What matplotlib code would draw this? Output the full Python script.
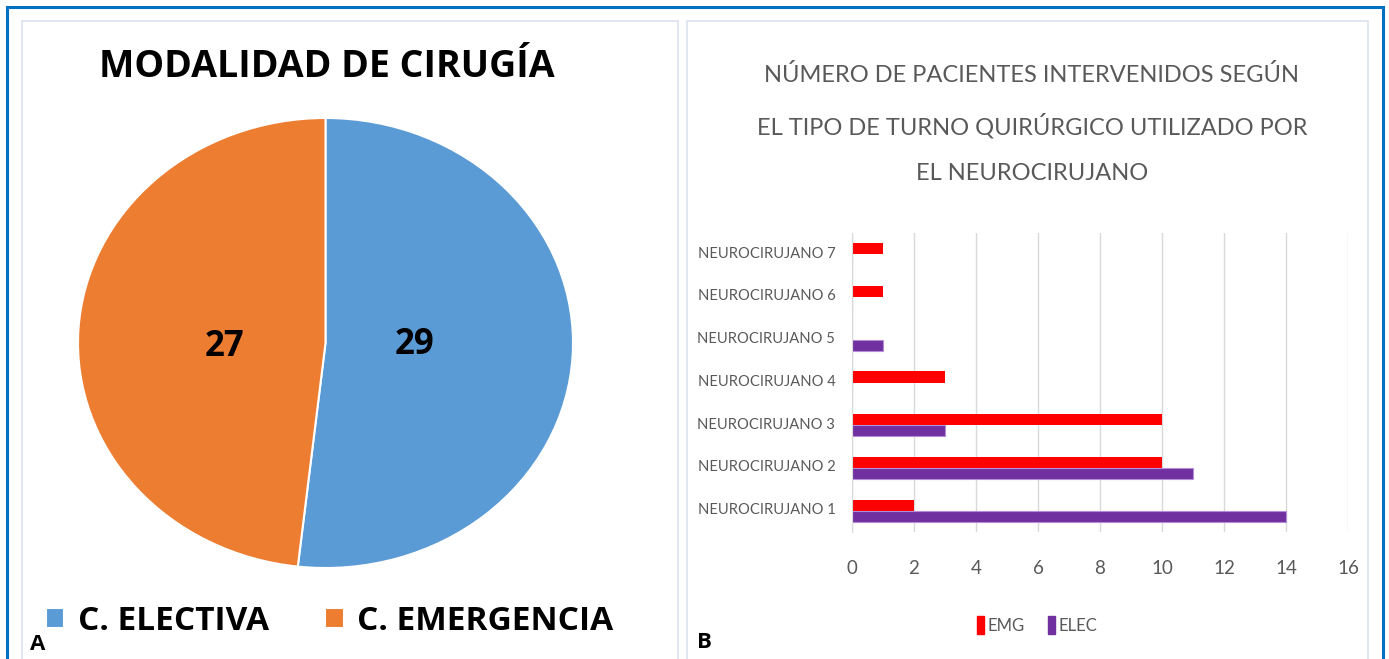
import matplotlib
matplotlib.use("Agg")
import matplotlib.pyplot as plt
from matplotlib.patches import Rectangle, Patch

# datos
modalidad = ["C. ELECTIVA", "C. EMERGENCIA"]
pacientes = [29, 27]
colores_pie = ["#5B9BD5", "#ED7D31"]

cirujanos = ["NEUROCIRUJANO 1", "NEUROCIRUJANO 2", "NEUROCIRUJANO 3",
             "NEUROCIRUJANO 4", "NEUROCIRUJANO 5", "NEUROCIRUJANO 6",
             "NEUROCIRUJANO 7"]
emg = [2, 10, 10, 3, 0, 1, 1]
elec = [14, 11, 3, 0, 1, 0, 0]
xticks = [0, 2, 4, 6, 8, 10, 12, 14, 16]
titulo_b = ["NÚMERO DE PACIENTES INTERVENIDOS SEGÚN",
            "EL TIPO DE TURNO QUIRÚRGICO UTILIZADO POR",
            "EL NEUROCIRUJANO"]

W, H = 1389, 659
narrow = ["Lato", "DejaVu Sans"]
gris = "#595959"


def rect(x0, y0, x1, y1):
    # pixeles (arriba-izquierda) a coords de figura
    return [x0 / W, (H - y1) / H, (x1 - x0) / W, (y1 - y0) / H]


fig = plt.figure(figsize=(W / 100, H / 100), dpi=100)

# marcos
fig.patches.append(Rectangle((7 / W, -0.01), (1383 - 7) / W, (H - 7) / H + 0.01,
                             transform=fig.transFigure, fill=False,
                             edgecolor="#0070C0", linewidth=2.2))
fig.patches.append(Rectangle((22 / W, -0.01), (678 - 22) / W, (H - 21) / H + 0.01,
                             transform=fig.transFigure, fill=False,
                             edgecolor="#DCE3EE", linewidth=1.2))
fig.patches.append(Rectangle((687 / W, -0.01), (1368 - 687) / W, (H - 21) / H + 0.01,
                             transform=fig.transFigure, fill=False,
                             edgecolor="#DCE3EE", linewidth=1.2))

# --- A: pastel ---
ax1 = fig.add_axes(rect(78, 118, 573, 568))
wedges, _ = ax1.pie(pacientes, colors=colores_pie, startangle=90, counterclock=False,
                    wedgeprops=dict(edgecolor="white", linewidth=1.5))
ax1.set_aspect("auto")
ax1.set_xlim(-1.0, 1.0)
ax1.set_ylim(-1.0, 1.0)
ax1.text(0.36, -0.01, str(pacientes[0]), ha="center", va="center",
         fontsize=25, fontweight="bold", family="Open Sans")
ax1.text(-0.41, -0.02, str(pacientes[1]), ha="center", va="center",
         fontsize=25, fontweight="bold", family="Open Sans")

fig.text(327 / W, 1 - 67 / H, "MODALIDAD DE CIRUGÍA", ha="center", va="center",
         fontsize=27, fontweight="bold", family="Open Sans")

leg1 = fig.legend(wedges, modalidad, loc="center left",
                  bbox_to_anchor=(16 / W, 1 - 621 / H), ncol=2, frameon=False,
                  prop=dict(family="Open Sans", weight="bold", size=24),
                  handlelength=0.55, handleheight=0.55, handletextpad=0.4,
                  columnspacing=1.7)

fig.text(30 / W, 1 - 645 / H, "A", ha="left", va="center",
         fontsize=16, fontweight="bold", family="Open Sans")
fig.text(697 / W, 1 - 643 / H, "B", ha="left", va="center",
         fontsize=16, fontweight="bold", family="Open Sans")

# --- B: barras ---
ax2 = fig.add_axes(rect(852, 233, 1348, 532))
pos = list(range(len(cirujanos)))
h = 0.26
ax2.barh([p + h / 2 for p in pos], emg, height=h, color="#FF0000", label="EMG")
ax2.barh([p - h / 2 for p in pos], elec, height=h, color="#7030A0",
         edgecolor="#B58CD6", linewidth=0.8, label="ELEC")
ax2.set_xlim(0, 16)
ax2.set_ylim(-0.5, 6.5)
ax2.set_xticks(xticks)
ax2.set_xticklabels([str(t) for t in xticks], family=narrow, fontsize=13.5, color=gris)
ax2.set_yticks([p + 0.05 for p in pos])
ax2.set_yticklabels(cirujanos, family=narrow, fontsize=10.6, color=gris)
ax2.tick_params(length=0)
ax2.tick_params(axis="x", pad=20)
ax2.tick_params(axis="y", pad=12)
ax2.grid(axis="x", color="#D9D9D9", linewidth=1)
ax2.set_axisbelow(True)
for s in ["top", "right", "bottom"]:
    ax2.spines[s].set_visible(False)
ax2.spines["left"].set_color("#D9D9D9")

for linea, y in zip(titulo_b, [75, 126, 174]):
    fig.text(1032 / W, 1 - y / H, linea, ha="center", va="center",
             family=narrow, fontsize=17, color=gris)

fig.legend(handles=[Patch(color="#FF0000", label="EMG"), Patch(color="#7030A0", label="ELEC")],
           loc="center", bbox_to_anchor=(1037 / W, 1 - 625 / H), ncol=2, frameon=False,
           prop=dict(family=narrow, size=12), labelcolor=gris,
           handlelength=0.45, handleheight=1.2, handletextpad=0.2, columnspacing=1.4)

fig.savefig("out.png", dpi=100)
